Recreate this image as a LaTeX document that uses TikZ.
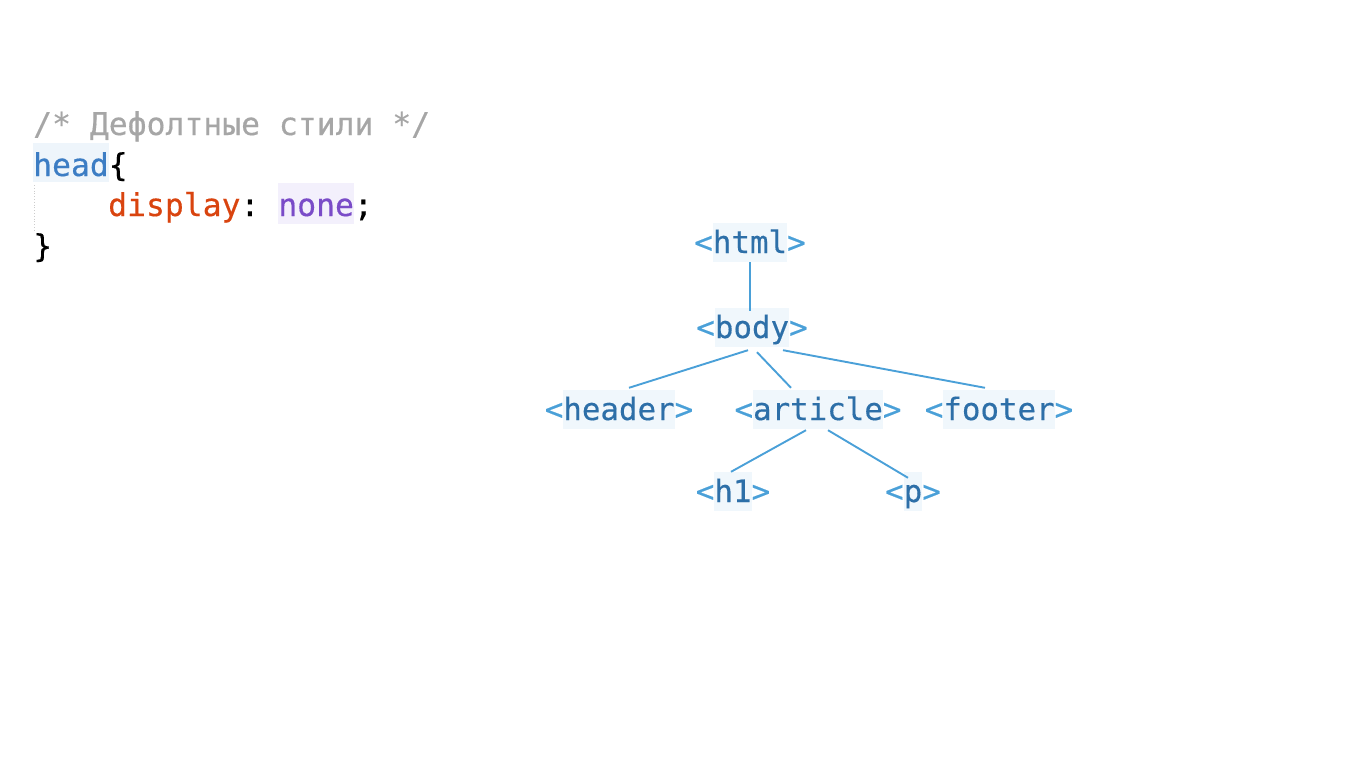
\documentclass[tikz,border=0pt]{standalone}
\usepackage{fontspec}
\newfontfamily\codefont{DejaVu Sans Mono}[FakeBold=0.4]
\frenchspacing
\definecolor{brk}{HTML}{4AA0D8}
\definecolor{tagc}{HTML}{2D6FA8}
\definecolor{tagbg}{HTML}{F0F7FC}
\definecolor{edge}{HTML}{4AA0D8}
\definecolor{cmt}{HTML}{A6A6A6}
\definecolor{headc}{HTML}{3C7DC4}
\definecolor{headbg}{HTML}{EEF5FB}
\definecolor{propc}{HTML}{D9440F}
\definecolor{valc}{HTML}{7A4CC8}
\definecolor{valbg}{HTML}{F3F0FC}
\newcommand\hlbox[4]{{\setlength{\fboxsep}{0pt}\colorbox{#1}{\rule[-#3]{0pt}{#4}#2}}}
\newcommand\tagtext[1]{\textcolor{brk}{<}\hlbox{tagbg}{\textcolor{tagc}{#1}}{9pt}{39pt}\textcolor{brk}{>}}
\begin{document}
\begin{tikzpicture}[x=1pt,y=-1pt,
  tag/.style={inner sep=0pt,anchor=base,font=\codefont\frenchspacing\fontsize{30.8}{31}\selectfont},
  code/.style={inner sep=0pt,anchor=base west,font=\codefont\frenchspacing\fontsize{31.4}{31}\selectfont},
  link/.style={draw=edge,line width=1.9pt}]
\useasboundingbox (0,0) rectangle (1366,768);
% code
\node[code] (c1) at (33,135) {\textcolor{cmt}{/* Дефолтные стили */}};
\node[code] (c2) at (33,176) {\hlbox{headbg}{\textcolor{headc}{head}}{6pt}{39pt}\{};
\node[code] (c3) at (108,216) {\textcolor{propc}{display}: \hlbox{valbg}{\textcolor{valc}{none}}{8pt}{41pt};};
\node[code] (c4) at (33,257) {\}};
\draw[gray!40,dotted,line width=0.8pt] (34,185) -- (34,232);
% tree
\node[tag] (html) at (750,253) {\tagtext{html}};
\node[tag] (body) at (752,338) {\tagtext{body}};
\node[tag] (header) at (619,420) {\tagtext{header}};
\node[tag] (article) at (818,420) {\tagtext{article}};
\node[tag] (footer) at (999,420) {\tagtext{footer}};
\node[tag] (h1) at (733,502) {\tagtext{h1}};
\node[tag] (p) at (913,502) {\tagtext{p}};
\draw[link] (html.south) -- ([xshift=-2pt,yshift=-3pt]body.north);
\draw[link] ([xshift=-4pt,yshift=-3pt]body.south) -- ([xshift=10pt,yshift=2pt]header.north);
\draw[link] ([xshift=5pt,yshift=-5pt]body.south) -- ([xshift=-27pt,yshift=2pt]article.north);
\draw[link] ([xshift=31pt,yshift=-3pt]body.south) -- ([xshift=-14pt,yshift=2pt]footer.north);
\draw[link] ([xshift=-12pt,yshift=-1pt]article.south) -- ([xshift=-2pt]h1.north);
\draw[link] ([xshift=10pt,yshift=-1pt]article.south) -- ([xshift=-5pt,yshift=-6pt]p.north);
\end{tikzpicture}
\end{document}
